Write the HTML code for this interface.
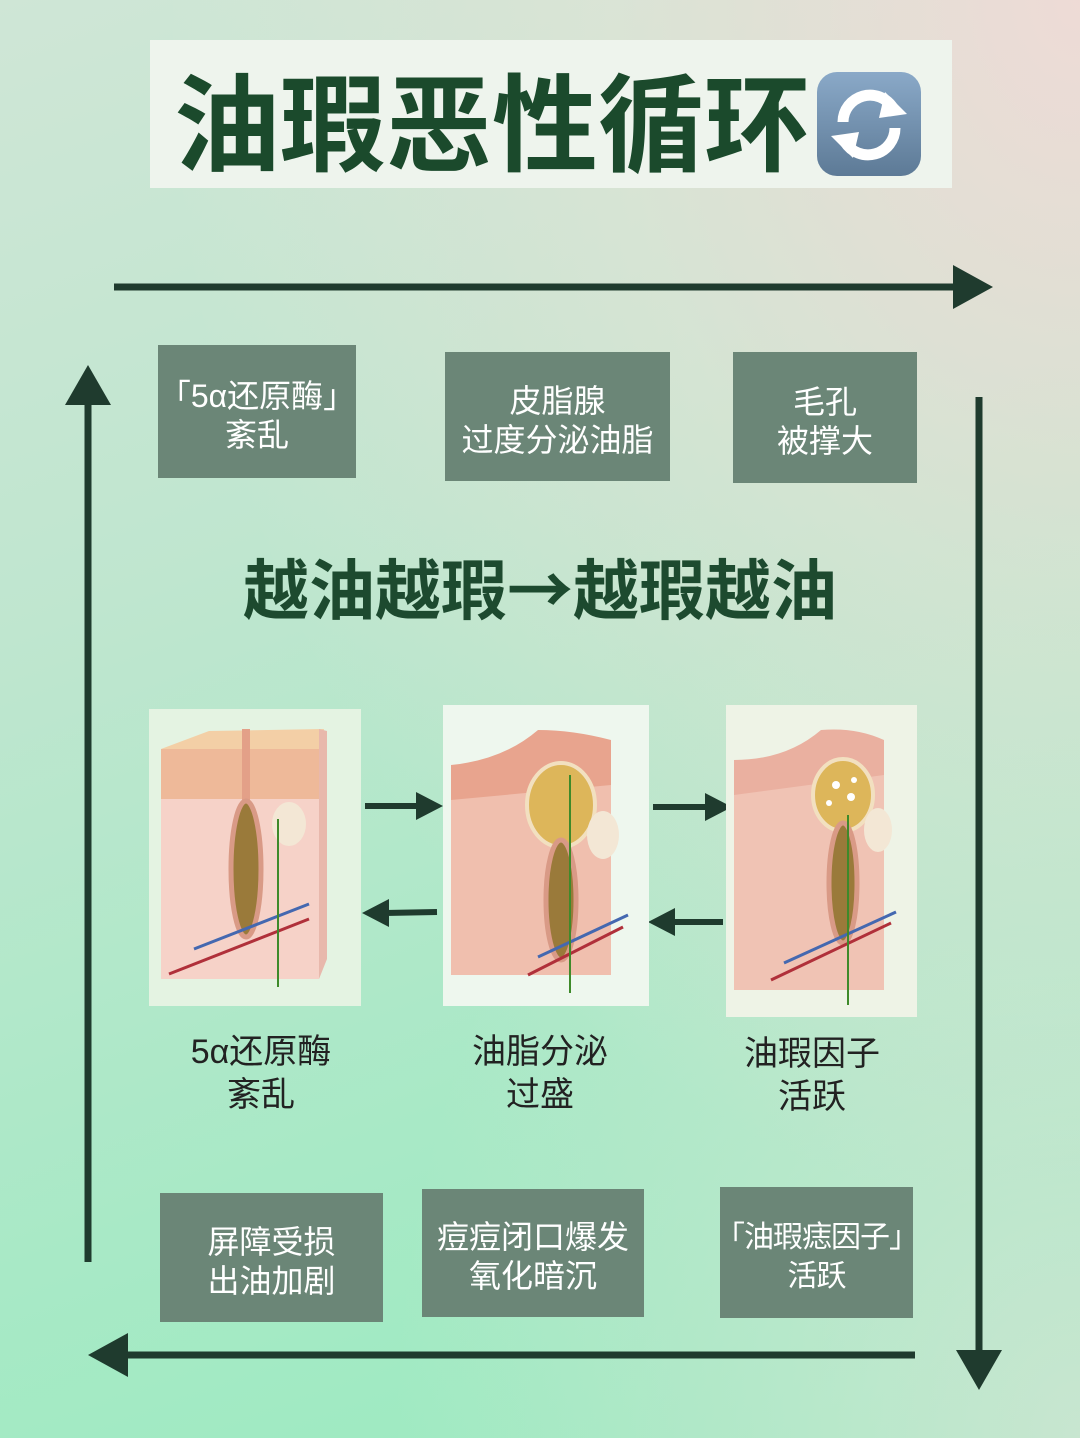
<!DOCTYPE html>
<html><head><meta charset="utf-8">
<style>
*{margin:0;padding:0;box-sizing:border-box}
body{width:1080px;height:1438px;position:relative;overflow:hidden;font-family:"Liberation Sans","Noto Sans CJK SC",sans-serif;
background:linear-gradient(160deg,#cfe6d6 0%,#bfe6cf 35%,#a8e9c6 70%,#98ebbf 100%);}
.tint{position:absolute;inset:0;background:radial-gradient(ellipse at 100% 0%,rgba(240,218,214,0.95) 0%,rgba(235,225,215,0.5) 30%,rgba(230,230,220,0) 60%);}
.tint2{position:absolute;inset:0;background:radial-gradient(ellipse at 100% 100%,rgba(220,228,215,0.7) 0%,rgba(220,228,215,0) 45%);}
.abs{position:absolute}
.title{left:150px;top:40px;width:802px;height:148px;background:#eef4ed;}
.title span{position:absolute;left:24px;top:12px;font-size:106px;font-weight:bold;color:#1b4a2c;line-height:130px;white-space:nowrap;font-family:"Noto Sans CJK SC",sans-serif}
.box{position:absolute;background:#6b8677;color:#fff;font-size:32px;line-height:39px;text-align:center;display:flex;align-items:center;justify-content:center;white-space:nowrap;padding-top:8px}
.sub{left:0;width:1080px;top:543px;text-align:center;font-size:66px;font-weight:bold;color:#1d4a2f;line-height:86px;font-family:"Noto Sans CJK SC",sans-serif;padding-left:0}
.lab{position:absolute;font-size:34px;line-height:43px;color:#222;text-align:center;width:240px}
</style></head><body>
<div class="tint"></div><div class="tint2"></div>
<div class="abs title"><span>油瑕恶性循环</span>
<svg class="abs" style="left:665px;top:30px" width="108" height="108" viewBox="0 0 108 108">
<defs><linearGradient id="g" x1="0" y1="0" x2="0" y2="1"><stop offset="0" stop-color="#8aa9c8"/><stop offset="1" stop-color="#5d7a96"/></linearGradient></defs>
<rect x="2" y="2" width="104" height="104" rx="20" fill="url(#g)"/>
<path d="M28 52 A27 27 0 0 1 78 38" stroke="#fff" stroke-width="11" fill="none"/>
<polygon points="70,22 92,44 64,48" fill="#fff"/>
<path d="M80 58 A27 27 0 0 1 30 72" stroke="#fff" stroke-width="11" fill="none"/>
<polygon points="38,88 16,66 44,62" fill="#fff"/>
</svg></div>

<svg class="abs" style="left:0;top:0" width="1080" height="1438">
<g fill="#1f3b2e" stroke="#1f3b2e">
<line x1="114" y1="287" x2="960" y2="287" stroke-width="7"/>
<polygon points="953,265 993,287 953,309" stroke="none"/>
<line x1="979" y1="397" x2="979" y2="1355" stroke-width="7"/>
<polygon points="956,1350 1002,1350 979,1390" stroke="none"/>
<line x1="915" y1="1355" x2="120" y2="1355" stroke-width="7"/>
<polygon points="128,1333 88,1355 128,1377" stroke="none"/>
<line x1="88" y1="1262" x2="88" y2="400" stroke-width="7"/>
<polygon points="65,405 111,405 88,365" stroke="none"/>
<line x1="365" y1="806" x2="420" y2="806" stroke-width="6"/><polygon points="416,792 443,806 416,820" stroke="none"/>
<line x1="653" y1="807" x2="708" y2="807" stroke-width="6"/><polygon points="705,793 732,807 705,821" stroke="none"/>
<line x1="437" y1="912" x2="385" y2="913" stroke-width="6"/><polygon points="389,899 362,913 389,927" stroke="none"/>
<line x1="723" y1="922" x2="672" y2="922" stroke-width="6"/><polygon points="675,908 648,922 675,936" stroke="none"/>
</g>
</svg>

<div class="box" style="left:158px;top:345px;width:198px;height:133px">「5α还原酶」<br>紊乱</div>
<div class="box" style="left:445px;top:352px;width:225px;height:129px">皮脂腺<br>过度分泌油脂</div>
<div class="box" style="left:733px;top:352px;width:184px;height:131px">毛孔<br>被撑大</div>
<div class="box" style="left:160px;top:1193px;width:223px;height:129px">屏障受损<br>出油加剧</div>
<div class="box" style="left:422px;top:1189px;width:222px;height:128px">痘痘闭口爆发<br>氧化暗沉</div>
<div class="box" style="left:720px;top:1187px;width:193px;height:131px;font-size:30px;letter-spacing:-1px">「油瑕痣因子」<br>活跃</div>

<div class="abs sub">越油越瑕→越瑕越油</div>

<svg class="abs" style="left:149px;top:709px" width="212" height="297" viewBox="0 0 212 297">
<rect width="212" height="297" fill="#e4f3e2"/>
<polygon points="12,40 60,22 175,20 170,60 12,70" fill="#f3cfa6"/>
<rect x="12" y="40" width="158" height="230" fill="#f6d2c8"/>
<polygon points="170,20 178,22 178,250 170,270" fill="#e8b8ac"/>
<rect x="12" y="40" width="158" height="50" fill="#eeb999"/>
<rect x="93" y="20" width="8" height="90" fill="#e3a088"/>
<ellipse cx="97" cy="160" rx="15" ry="68" fill="#9a7a3a" stroke="#d99a86" stroke-width="5"/>
<ellipse cx="140" cy="115" rx="17" ry="22" fill="#f3e7d5"/>
<path d="M20 265 L160 210" stroke="#b0303a" stroke-width="3"/>
<path d="M45 240 L160 195" stroke="#4468b0" stroke-width="3"/>
<line x1="129" y1="110" x2="129" y2="278" stroke="#3e8a2a" stroke-width="2"/>
</svg>
<svg class="abs" style="left:443px;top:705px" width="206" height="301" viewBox="0 0 206 301">
<rect width="206" height="301" fill="#eef7ee"/>
<rect x="8" y="60" width="160" height="210" fill="#f0bfae"/>
<path d="M8 60 Q60 55 95 25 Q130 25 168 35 L168 80 L8 95Z" fill="#e8a48e"/>
<ellipse cx="118" cy="100" rx="34" ry="42" fill="#ddb65a" stroke="#f2e0c0" stroke-width="4"/>
<ellipse cx="118" cy="195" rx="15" ry="60" fill="#9a7a3a" stroke="#d99a86" stroke-width="5"/>
<ellipse cx="160" cy="130" rx="16" ry="24" fill="#f3e7d5"/>
<path d="M85 270 L180 222" stroke="#b0303a" stroke-width="3"/>
<path d="M95 252 L185 210" stroke="#4468b0" stroke-width="3"/>
<line x1="127" y1="70" x2="127" y2="288" stroke="#3e8a2a" stroke-width="2"/>
</svg>
<svg class="abs" style="left:726px;top:705px" width="191" height="312" viewBox="0 0 191 312">
<rect width="191" height="312" fill="#eef3e6"/>
<rect x="8" y="55" width="150" height="230" fill="#f0c3b4"/>
<path d="M8 55 Q60 55 95 25 Q130 22 158 35 L158 70 L8 90Z" fill="#eab0a0"/>
<ellipse cx="117" cy="90" rx="30" ry="36" fill="#ddb65a" stroke="#f2e0c0" stroke-width="4"/>
<circle cx="110" cy="80" r="4" fill="#fff"/><circle cx="125" cy="92" r="4" fill="#fff"/><circle cx="103" cy="98" r="3" fill="#fff"/><circle cx="128" cy="75" r="3" fill="#fff"/>
<ellipse cx="117" cy="178" rx="14" ry="60" fill="#9a7a3a" stroke="#d99a86" stroke-width="5"/>
<ellipse cx="152" cy="125" rx="14" ry="22" fill="#f3e7d5"/>
<path d="M45 275 L165 218" stroke="#b0303a" stroke-width="3"/>
<path d="M58 258 L170 207" stroke="#4468b0" stroke-width="3"/>
<line x1="122" y1="110" x2="122" y2="300" stroke="#3e8a2a" stroke-width="2"/>
</svg>

<div class="lab" style="left:141px;top:1031px">5α还原酶<br>紊乱</div>
<div class="lab" style="left:420px;top:1031px">油脂分泌<br>过盛</div>
<div class="lab" style="left:692px;top:1033px">油瑕因子<br>活跃</div>
</body></html>
